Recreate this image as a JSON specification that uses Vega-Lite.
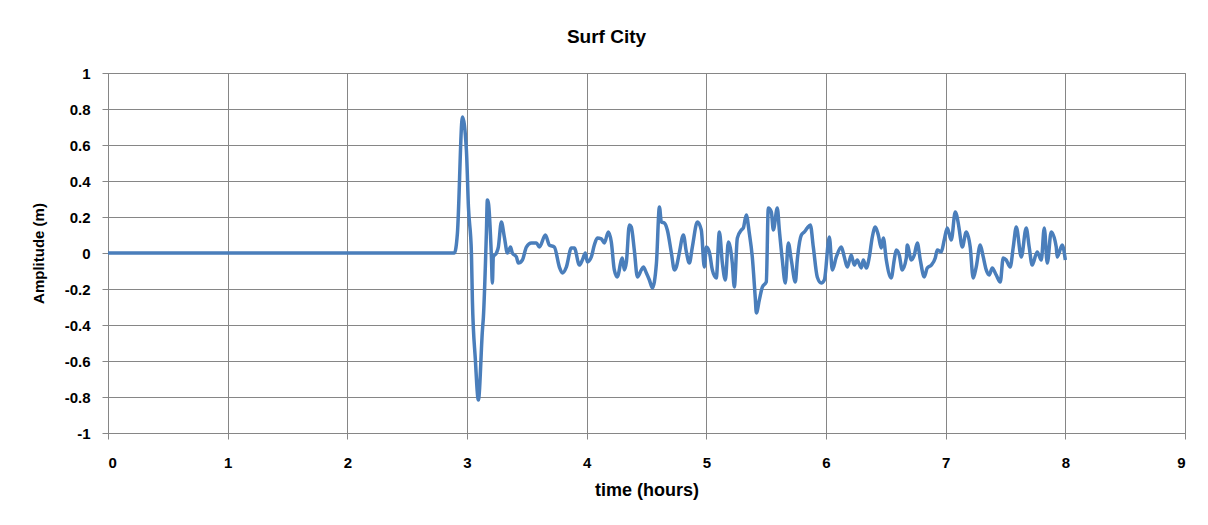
{
  "$schema": "https://vega.github.io/schema/vega-lite/v6.json",
  "autosize": {"type": "none"},
  "width": 1077,
  "height": 360,
  "padding": {"left": 108, "top": 73, "right": 23, "bottom": 92},
  "background": "white",
  "title": {
    "text": "Surf City",
    "font": "Liberation Sans",
    "fontSize": 19,
    "fontWeight": "bold",
    "color": "#000000",
    "anchor": "middle",
    "dx": -40,
    "offset": 19
  },
  "data": {
    "values": [
      {"t": 0, "a": 0}, {"t": 2.895, "a": 0}, {"t": 2.92, "a": 0.111}, {"t": 2.962, "a": 0.756},
      {"t": 2.995, "a": 0.572}, {"t": 3.012, "a": 0.256}, {"t": 3.037, "a": 0}, {"t": 3.045, "a": -0.261},
      {"t": 3.07, "a": -0.594}, {"t": 3.095, "a": -0.817}, {"t": 3.129, "a": -0.428}, {"t": 3.137, "a": -0.356},
      {"t": 3.162, "a": 0.111}, {"t": 3.17, "a": 0.294}, {"t": 3.179, "a": 0.278}, {"t": 3.204, "a": -0.022},
      {"t": 3.212, "a": -0.167}, {"t": 3.22, "a": -0.022}, {"t": 3.246, "a": 0}, {"t": 3.262, "a": 0.033},
      {"t": 3.287, "a": 0.172}, {"t": 3.312, "a": 0.089}, {"t": 3.338, "a": 0}, {"t": 3.363, "a": 0.033},
      {"t": 3.379, "a": 0}, {"t": 3.413, "a": -0.022}, {"t": 3.429, "a": -0.056}, {"t": 3.463, "a": -0.039},
      {"t": 3.496, "a": 0.033}, {"t": 3.538, "a": 0.056}, {"t": 3.58, "a": 0.056}, {"t": 3.605, "a": 0.033},
      {"t": 3.655, "a": 0.1}, {"t": 3.688, "a": 0.044}, {"t": 3.73, "a": 0.033}, {"t": 3.772, "a": -0.078},
      {"t": 3.797, "a": -0.111}, {"t": 3.83, "a": -0.078}, {"t": 3.872, "a": 0.028}, {"t": 3.897, "a": 0.028},
      {"t": 3.939, "a": -0.067}, {"t": 3.964, "a": -0.039}, {"t": 3.989, "a": 0}, {"t": 4.006, "a": -0.05},
      {"t": 4.039, "a": -0.022}, {"t": 4.064, "a": 0.044}, {"t": 4.089, "a": 0.083}, {"t": 4.123, "a": 0.078},
      {"t": 4.148, "a": 0.056}, {"t": 4.181, "a": 0.117}, {"t": 4.206, "a": 0.061}, {"t": 4.231, "a": -0.094},
      {"t": 4.256, "a": -0.133}, {"t": 4.29, "a": -0.039}, {"t": 4.298, "a": -0.028}, {"t": 4.315, "a": -0.094},
      {"t": 4.332, "a": -0.05}, {"t": 4.357, "a": 0.156}, {"t": 4.373, "a": 0.144}, {"t": 4.398, "a": 0.017},
      {"t": 4.424, "a": -0.133}, {"t": 4.457, "a": -0.094}, {"t": 4.474, "a": -0.078}, {"t": 4.499, "a": -0.111},
      {"t": 4.524, "a": -0.15}, {"t": 4.549, "a": -0.194}, {"t": 4.583, "a": -0.056}, {"t": 4.608, "a": 0.256},
      {"t": 4.624, "a": 0.172}, {"t": 4.649, "a": 0.167}, {"t": 4.674, "a": 0.128}, {"t": 4.708, "a": 0},
      {"t": 4.733, "a": -0.094}, {"t": 4.749, "a": -0.078}, {"t": 4.774, "a": 0}, {"t": 4.808, "a": 0.1},
      {"t": 4.833, "a": 0.006}, {"t": 4.858, "a": -0.056}, {"t": 4.883, "a": 0.033}, {"t": 4.925, "a": 0.172},
      {"t": 4.958, "a": 0.128}, {"t": 4.983, "a": -0.078}, {"t": 5.0, "a": 0.033}, {"t": 5.025, "a": 0.006},
      {"t": 5.05, "a": -0.094}, {"t": 5.083, "a": -0.139}, {"t": 5.109, "a": 0.117}, {"t": 5.134, "a": -0.056},
      {"t": 5.159, "a": -0.15}, {"t": 5.184, "a": 0.061}, {"t": 5.217, "a": -0.056}, {"t": 5.234, "a": -0.189},
      {"t": 5.259, "a": 0.083}, {"t": 5.293, "a": 0.128}, {"t": 5.309, "a": 0.139}, {"t": 5.334, "a": 0.211},
      {"t": 5.359, "a": 0.111}, {"t": 5.384, "a": -0.022}, {"t": 5.409, "a": -0.25}, {"t": 5.418, "a": -0.333},
      {"t": 5.443, "a": -0.261}, {"t": 5.468, "a": -0.189}, {"t": 5.501, "a": -0.161}, {"t": 5.518, "a": 0.25},
      {"t": 5.543, "a": 0.228}, {"t": 5.56, "a": 0.128}, {"t": 5.593, "a": 0.25}, {"t": 5.61, "a": 0.128},
      {"t": 5.635, "a": -0.039}, {"t": 5.66, "a": -0.167}, {"t": 5.685, "a": 0.056}, {"t": 5.71, "a": -0.039},
      {"t": 5.744, "a": -0.161}, {"t": 5.76, "a": -0.039}, {"t": 5.794, "a": 0.1}, {"t": 5.819, "a": 0.117},
      {"t": 5.844, "a": 0.139}, {"t": 5.869, "a": 0.156}, {"t": 5.894, "a": 0.033}, {"t": 5.927, "a": -0.133},
      {"t": 5.961, "a": -0.167}, {"t": 5.986, "a": -0.15}, {"t": 6.028, "a": 0.089}, {"t": 6.053, "a": -0.094},
      {"t": 6.086, "a": -0.022}, {"t": 6.128, "a": 0.033}, {"t": 6.153, "a": -0.022}, {"t": 6.178, "a": -0.078},
      {"t": 6.211, "a": -0.011}, {"t": 6.236, "a": -0.067}, {"t": 6.261, "a": -0.039}, {"t": 6.295, "a": -0.083},
      {"t": 6.312, "a": -0.039}, {"t": 6.337, "a": -0.083}, {"t": 6.362, "a": -0.022}, {"t": 6.387, "a": 0.089},
      {"t": 6.412, "a": 0.144}, {"t": 6.437, "a": 0.1}, {"t": 6.462, "a": 0.028}, {"t": 6.479, "a": 0.083},
      {"t": 6.504, "a": -0.039}, {"t": 6.545, "a": -0.139}, {"t": 6.57, "a": -0.039}, {"t": 6.587, "a": 0.017},
      {"t": 6.612, "a": -0.011}, {"t": 6.637, "a": -0.094}, {"t": 6.671, "a": -0.028}, {"t": 6.679, "a": 0.044},
      {"t": 6.713, "a": -0.039}, {"t": 6.738, "a": -0.011}, {"t": 6.763, "a": 0.056}, {"t": 6.788, "a": -0.039},
      {"t": 6.821, "a": -0.133}, {"t": 6.846, "a": -0.083}, {"t": 6.88, "a": -0.067}, {"t": 6.913, "a": -0.028},
      {"t": 6.93, "a": 0.017}, {"t": 6.963, "a": 0.006}, {"t": 6.988, "a": 0.072}, {"t": 7.013, "a": 0.139},
      {"t": 7.047, "a": 0.072}, {"t": 7.08, "a": 0.228}, {"t": 7.105, "a": 0.167}, {"t": 7.114, "a": 0.128},
      {"t": 7.139, "a": 0.033}, {"t": 7.172, "a": 0.117}, {"t": 7.205, "a": 0.033}, {"t": 7.23, "a": -0.139},
      {"t": 7.255, "a": -0.078}, {"t": 7.289, "a": 0.044}, {"t": 7.314, "a": -0.022}, {"t": 7.339, "a": -0.094},
      {"t": 7.364, "a": -0.122}, {"t": 7.389, "a": -0.083}, {"t": 7.422, "a": -0.122}, {"t": 7.456, "a": -0.161},
      {"t": 7.481, "a": -0.028}, {"t": 7.506, "a": -0.039}, {"t": 7.539, "a": -0.078}, {"t": 7.565, "a": 0.033},
      {"t": 7.59, "a": 0.144}, {"t": 7.632, "a": -0.022}, {"t": 7.673, "a": 0.139}, {"t": 7.698, "a": 0.033},
      {"t": 7.723, "a": -0.067}, {"t": 7.765, "a": 0.006}, {"t": 7.799, "a": -0.039}, {"t": 7.824, "a": 0.139},
      {"t": 7.849, "a": -0.056}, {"t": 7.882, "a": 0.117}, {"t": 7.924, "a": 0.033}, {"t": 7.932, "a": -0.022},
      {"t": 7.974, "a": 0.044}, {"t": 8.0, "a": -0.039}
    ]
  },
  "mark": {"type": "line", "color": "#4A7EBB", "strokeWidth": 3.5, "interpolate": "monotone"},
  "encoding": {
    "x": {
      "field": "t",
      "type": "quantitative",
      "scale": {"domain": [0, 9], "nice": false},
      "axis": {
        "title": "time (hours)",
        "values": [0, 1, 2, 3, 4, 5, 6, 7, 8, 9],
        "format": "d",
        "titleFontSize": 18,
        "titlePadding": 11,
        "labelPadding": 16,
        "tickSize": 6
      }
    },
    "y": {
      "field": "a",
      "type": "quantitative",
      "scale": {"domain": [-1, 1], "nice": false},
      "axis": {
        "title": "Amplitude (m)",
        "values": [-1, -0.8, -0.6, -0.4, -0.2, 0, 0.2, 0.4, 0.6, 0.8, 1],
        "labelExpr": "replace(format(datum.value, '.1~f'), '\u2212', '-')",
        "titleFontSize": 15,
        "titlePadding": 18,
        "labelPadding": 12,
        "tickSize": 6
      }
    }
  },
  "config": {
    "view": {"stroke": "#868686", "strokeWidth": 1},
    "axis": {
      "labelFont": "Liberation Sans",
      "labelFontSize": 15,
      "labelFontWeight": "bold",
      "labelColor": "#000000",
      "titleFont": "Liberation Sans",
      "titleFontWeight": "bold",
      "titleColor": "#000000",
      "gridColor": "#868686",
      "gridOpacity": 1,
      "gridWidth": 1,
      "tickColor": "#868686",
      "domain": false
    }
  }
}
